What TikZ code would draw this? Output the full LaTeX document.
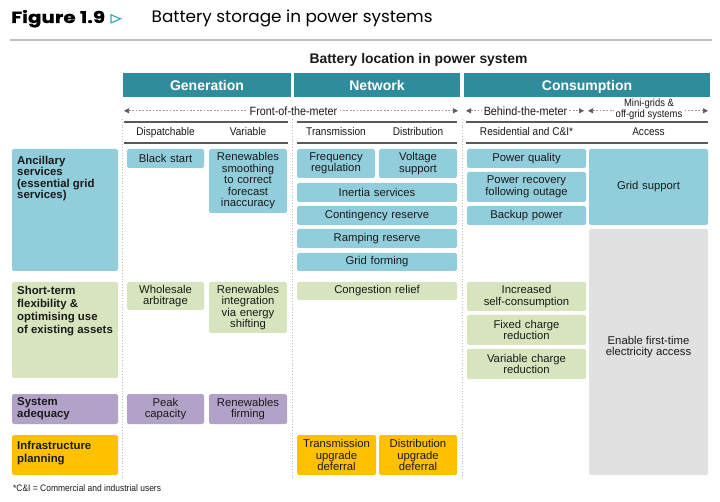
\documentclass[tikz,border=0pt]{standalone}
\usepackage{fontspec}
\setmainfont{Liberation Sans}
\newfontfamily\narrowfont[FakeStretch=0.9]{Liberation Sans}
\newfontfamily\titlefont[FakeStretch=1.015]{Poppins}
\newfontfamily\figfont[FakeStretch=1.22,FakeBold=0.6]{Poppins Bold}
\usetikzlibrary{arrows.meta}
\definecolor{hdr}{HTML}{2F8C9C}
\definecolor{cblue}{HTML}{92CDDC}
\definecolor{cgreen}{HTML}{D7E4BD}
\definecolor{cpurple}{HTML}{B3A2C7}
\definecolor{cgold}{HTML}{FFC000}
\definecolor{cgray}{HTML}{E1E1E1}
\definecolor{rulegray}{HTML}{BFBFBF}
\definecolor{dkline}{HTML}{595959}
\definecolor{dashgray}{HTML}{9A9A9A}
\definecolor{tri}{HTML}{3BA7BC}
\definecolor{txt}{HTML}{1A1A1A}
\newcommand{\cellat}[7]{%
  \pgfmathsetmacro\cw{#4-#2}%
  \pgfmathsetmacro\ch{#5-#3}%
  \pgfmathsetmacro\tw{#4-#2-4}%
  \node[cell, fill=#6, minimum width=\cw pt, minimum height=\ch pt, text width=\tw pt] (#1) at ({(#2+#4)/2},{(#3+#5)/2}) {#7};}
\begin{document}
\begin{tikzpicture}[x=1pt,y=-1pt,
  cell/.style={rounded corners=1.6pt, inner sep=0pt, align=center, text=txt, font=\fontsize{11.3}{11.5}\selectfont},
  hdrbox/.style={fill=hdr, inner sep=0pt, text=white, text height=10.2pt, text depth=0pt, font=\bfseries\fontsize{14}{16}\selectfont},
  rowlab/.style={anchor=north west, inner sep=0pt, align=left, text=txt, font=\bfseries\fontsize{11.4}{12.5}\selectfont},
  subtext/.style={inner sep=0pt, text=txt, text height=8pt, text depth=2.3pt, font=\narrowfont\fontsize{11.2}{13}\selectfont},
  meter/.style={fill=white, inner xsep=2pt, inner ysep=1pt, align=center, text=txt, font=\narrowfont\fontsize{12}{13}\selectfont},
  dashl/.style={dashgray, line width=0.7pt, dash pattern=on 1.8pt off 1.6pt,
     {Triangle[length=5pt,width=5pt,color=dkline]}-{Triangle[length=5pt,width=5pt,color=dkline]}},
  subrule/.style={dkline, line width=1.6pt},
  colsep/.style={rulegray, line width=0.8pt, dotted},
]
\useasboundingbox (0,0) rectangle (720,502);
\fill[white] (0,0) rectangle (720,502);

% title
\node[anchor=base west, inner sep=0pt, font=\figfont\fontsize{16.3}{19}\selectfont] (fig) at (11,23) {Figure 1.9};
\draw[tri, line width=1.2pt, line join=miter] (111,14.8) -- (120.5,18.8) -- (111,22.8) -- cycle;
\node[anchor=base west, inner sep=0pt, font=\titlefont\fontsize{16.6}{19}\selectfont] (ttl) at (151.5,23) {Battery storage in power systems};
\coordinate (ruleL) at (10,40.5);
\coordinate (ruleR) at (712,40.5);
\draw[rulegray, line width=2pt] (ruleL) -- (ruleR);

\node[inner sep=0pt, text=txt, font=\bfseries\fontsize{13.9}{16}\selectfont] (loc) at (418.5,60) {Battery location in power system};

% headers
\node[hdrbox, minimum width=168pt, minimum height=24pt] (gen) at (207,85) {Generation};
\node[hdrbox, minimum width=166pt, minimum height=24pt] (net) at (377,85) {Network};
\node[hdrbox, minimum width=246pt, minimum height=24pt] (con) at (587,85) {Consumption};

% meter arrows
\coordinate (fotmL) at (124,110.8);
\coordinate (fotmR) at (458,110.8);
\draw[dashl] (fotmL) -- (fotmR);
\node[meter] (fotm) at (293.5,110.8) {Front-of-the-meter};
\coordinate (btmL) at (466,110.8);
\coordinate (btmR) at (584,110.8);
\draw[dashl] (btmL) -- (btmR);
\node[meter] (btm) at (525.5,110.8) {Behind-the-meter};
\coordinate (mgL) at (588,110.8);
\coordinate (mgR) at (708,110.8);
\draw[dashl] (mgL) -- (mgR);
\node[meter, font=\narrowfont\fontsize{10.5}{11}\selectfont] (mg) at (649,108.8) {Mini-grids \&\\off-grid systems};

% column separators
\foreach \n/\x in {a/122.5,b/292.5,c/462.5}{
  \coordinate (sep\n T) at (\x,119);
  \coordinate (sep\n B) at (\x,478);
  \draw[colsep] (sep\n T) -- (sep\n B);
}

% sub-header rules
\foreach \n/\a/\b in {g/124/288,n/297/457,c/466/708}{
  \coordinate (r\n 1L) at (\a,122);
  \coordinate (r\n 1R) at (\b,122);
  \coordinate (r\n 2L) at (\a,143);
  \coordinate (r\n 2R) at (\b,143);
  \draw[subrule] (r\n 1L) -- (r\n 1R);
  \draw[subrule] (r\n 2L) -- (r\n 2R);
}
\node[subtext] (sdisp) at (165.5,132.8) {Dispatchable};
\node[subtext] (svar) at (248,132.8) {Variable};
\node[subtext] (strans) at (336,132.8) {Transmission};
\node[subtext] (sdist) at (418,132.8) {Distribution};
\node[subtext] (sres) at (526.5,132.8) {Residential and C\&I*};
\node[subtext] (sacc) at (648.5,132.8) {Access};

% row 1: ancillary services
\cellat{anc}{12}{149}{118}{271}{cblue}{}
\node[rowlab, font=\bfseries\fontsize{11.4}{11.3}\selectfont] (ancT) at (17,156) {Ancillary\\services\\(essential grid\\services)};
\cellat{bs}{127}{149}{204}{168}{cblue}{Black start}
\cellat{rs}{209}{149}{287}{213}{cblue}{Renewables\\smoothing\\to correct\\forecast\\inaccuracy}
\cellat{fr}{297}{149}{375}{178}{cblue}{Frequency\\regulation}
\cellat{vs}{379}{149}{457}{178}{cblue}{Voltage\\support}
\cellat{ins}{297}{183}{457}{202}{cblue}{Inertia services}
\cellat{cr}{297}{206}{457}{225}{cblue}{Contingency reserve}
\cellat{rr}{297}{229}{457}{248}{cblue}{Ramping reserve}
\cellat{gf}{297}{253}{457}{271}{cblue}{Grid forming}
\cellat{pq}{467}{149}{586}{168}{cblue}{Power quality}
\cellat{pr}{467}{172}{586}{202}{cblue}{Power recovery\\following outage}
\cellat{bp}{467}{206}{586}{225}{cblue}{Backup power}
\cellat{gs}{589}{149}{708}{225}{cblue}{Grid support}
\cellat{acc}{589}{229}{708}{475}{cgray}{}
\node[cell, fill=none, align=center] (accT) at (648.5,347) {Enable first-time\\electricity access};

% row 2: flexibility
\cellat{stf}{12}{282}{118}{378}{cgreen}{}
\node[rowlab, font=\bfseries\fontsize{11.4}{13}\selectfont] (stfT) at (17,286.5) {Short-term\\flexibility \&\\optimising use\\of existing assets};
\cellat{wa}{127}{282}{204}{310}{cgreen}{Wholesale\\arbitrage}
\cellat{ri}{209}{282}{287}{333}{cgreen}{Renewables\\integration\\via energy\\shifting}
\cellat{cgr}{297}{282}{457}{300}{cgreen}{Congestion relief}
\cellat{isc}{467}{282}{586}{311}{cgreen}{Increased\\self-consumption}
\cellat{fcr}{467}{315}{586}{345}{cgreen}{Fixed charge\\reduction}
\cellat{vcr}{467}{349}{586}{379}{cgreen}{Variable charge\\reduction}

% row 3: adequacy
\cellat{sa}{12}{394}{118}{424}{cpurple}{}
\node[rowlab, font=\bfseries\fontsize{11.4}{12.3}\selectfont] (saT) at (17,397.5) {System\\adequacy};
\cellat{pc}{127}{394}{204}{424}{cpurple}{Peak\\capacity}
\cellat{rf}{209}{394}{287}{424}{cpurple}{Renewables\\firming}

% row 4: infrastructure
\cellat{ip}{12}{435}{118}{475}{cgold}{}
\node[rowlab, font=\bfseries\fontsize{11.4}{13.3}\selectfont] (ipT) at (17,441) {Infrastructure\\planning};
\cellat{tud}{297}{435}{376}{475}{cgold}{Transmission\\upgrade\\deferral}
\cellat{dud}{379}{435}{457}{475}{cgold}{Distribution\\upgrade\\deferral}

% footnote
\node[anchor=west, inner sep=0pt, text=txt, font=\narrowfont\fontsize{9.4}{11}\selectfont] (fn) at (13,488) {*C\&I = Commercial and industrial users};
\end{tikzpicture}
\end{document}
